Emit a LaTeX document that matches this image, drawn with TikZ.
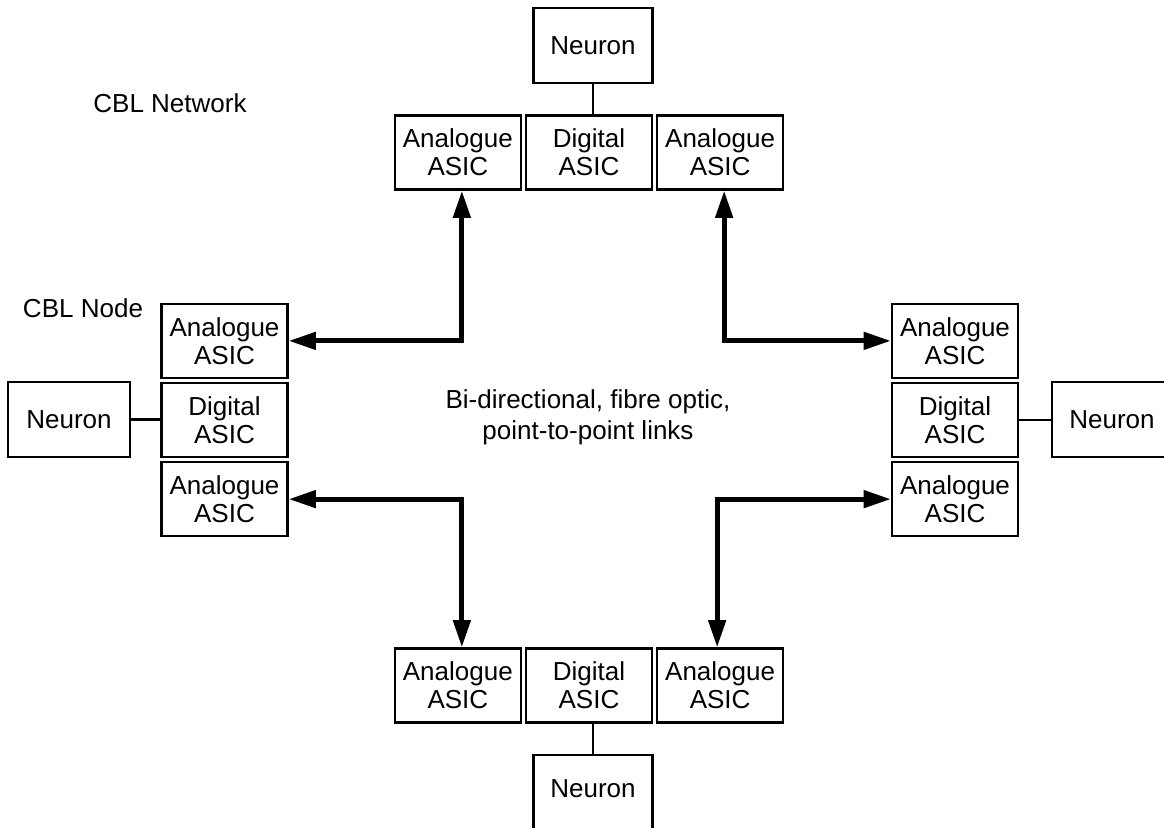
\documentclass[tikz,border=0pt]{standalone}
\usepackage{fontspec}
\setmainfont{Liberation Sans}
\usetikzlibrary{positioning,arrows.meta}

\begin{document}
\begin{tikzpicture}[x=0.025cm,y=-0.025cm,font=\fontsize{18.5}{20}\selectfont,
		asic/.style={draw,line width=1.5pt,inner sep=0pt,align=center,minimum width=3.15cm,minimum height=1.85cm},
		neuron/.style={asic,minimum width=2.975cm,minimum height=1.875cm},
		wire/.style={line width=1.9pt},
		link/.style={line width=3.6pt,{Triangle[length=0.68cm,width=0.42cm]}-{Triangle[length=0.68cm,width=0.42cm]}}]
		\useasboundingbox (0,0) rectangle (1164,828);
		% top node
		\node(tD) [asic] at (589,152.5) {Digital\\ASIC};
		\node(tAl) [asic,left=0.075cm of tD] {Analogue\\ASIC};
		\node(tAr) [asic,right=0.075cm of tD] {Analogue\\ASIC};
		\node(tN) [neuron] at (593,45.5) {Neuron};
		\draw[wire] (tN.south) -- (tN.south |- tD.north);
		% left node
		\node(lD) [asic] at (224.5,420) {Digital\\ASIC};
		\node(lAt) [asic,above=0.075cm of lD] {Analogue\\ASIC};
		\node(lAb) [asic,below=0.075cm of lD] {Analogue\\ASIC};
		\node(lN) [neuron,minimum width=3.05cm] at (69,419.5) {Neuron};
		\draw[wire] (lN.east) -- (lN.east -| lD.west);
		% right node
		\node(rD) [asic] at (955,420) {Digital\\ASIC};
		\node(rAt) [asic,above=0.075cm of rD] {Analogue\\ASIC};
		\node(rAb) [asic,below=0.075cm of rD] {Analogue\\ASIC};
		\node(rN) [neuron,minimum width=3.0cm] at (1112,419.5) {Neuron};
		\draw[wire] (rD.east) -- (rD.east -| rN.west);
		% bottom node
		\node(bD) [asic] at (589,685.5) {Digital\\ASIC};
		\node(bAl) [asic,left=0.075cm of bD] {Analogue\\ASIC};
		\node(bAr) [asic,right=0.075cm of bD] {Analogue\\ASIC};
		\node(bN) [neuron,minimum height=2cm,text depth=0.3cm] at (593,795) {Neuron};
		\draw[wire] (bN.north |- bD.south) -- (bN.north);
		% links
		\draw[link] (lAt.east) -| ([xshift=0.1cm]tAl.south);
		\draw[link] (lAb.east) -| ([xshift=0.1cm]bAl.north);
		\draw[link] (rAt.west) -| ([xshift=0.1cm]tAr.south);
		\draw[link] (rAb.west) -| ([xshift=-0.075cm]bAr.north);
		% labels
		\node(net) at (170,103) {CBL Network};
		\node(cbl) at (83,308) {CBL Node};
		\node(txt) [align=center] at (588,417) {Bi-directional, fibre optic,\\[2pt]point-to-point links};
	\end{tikzpicture}
\end{document}
